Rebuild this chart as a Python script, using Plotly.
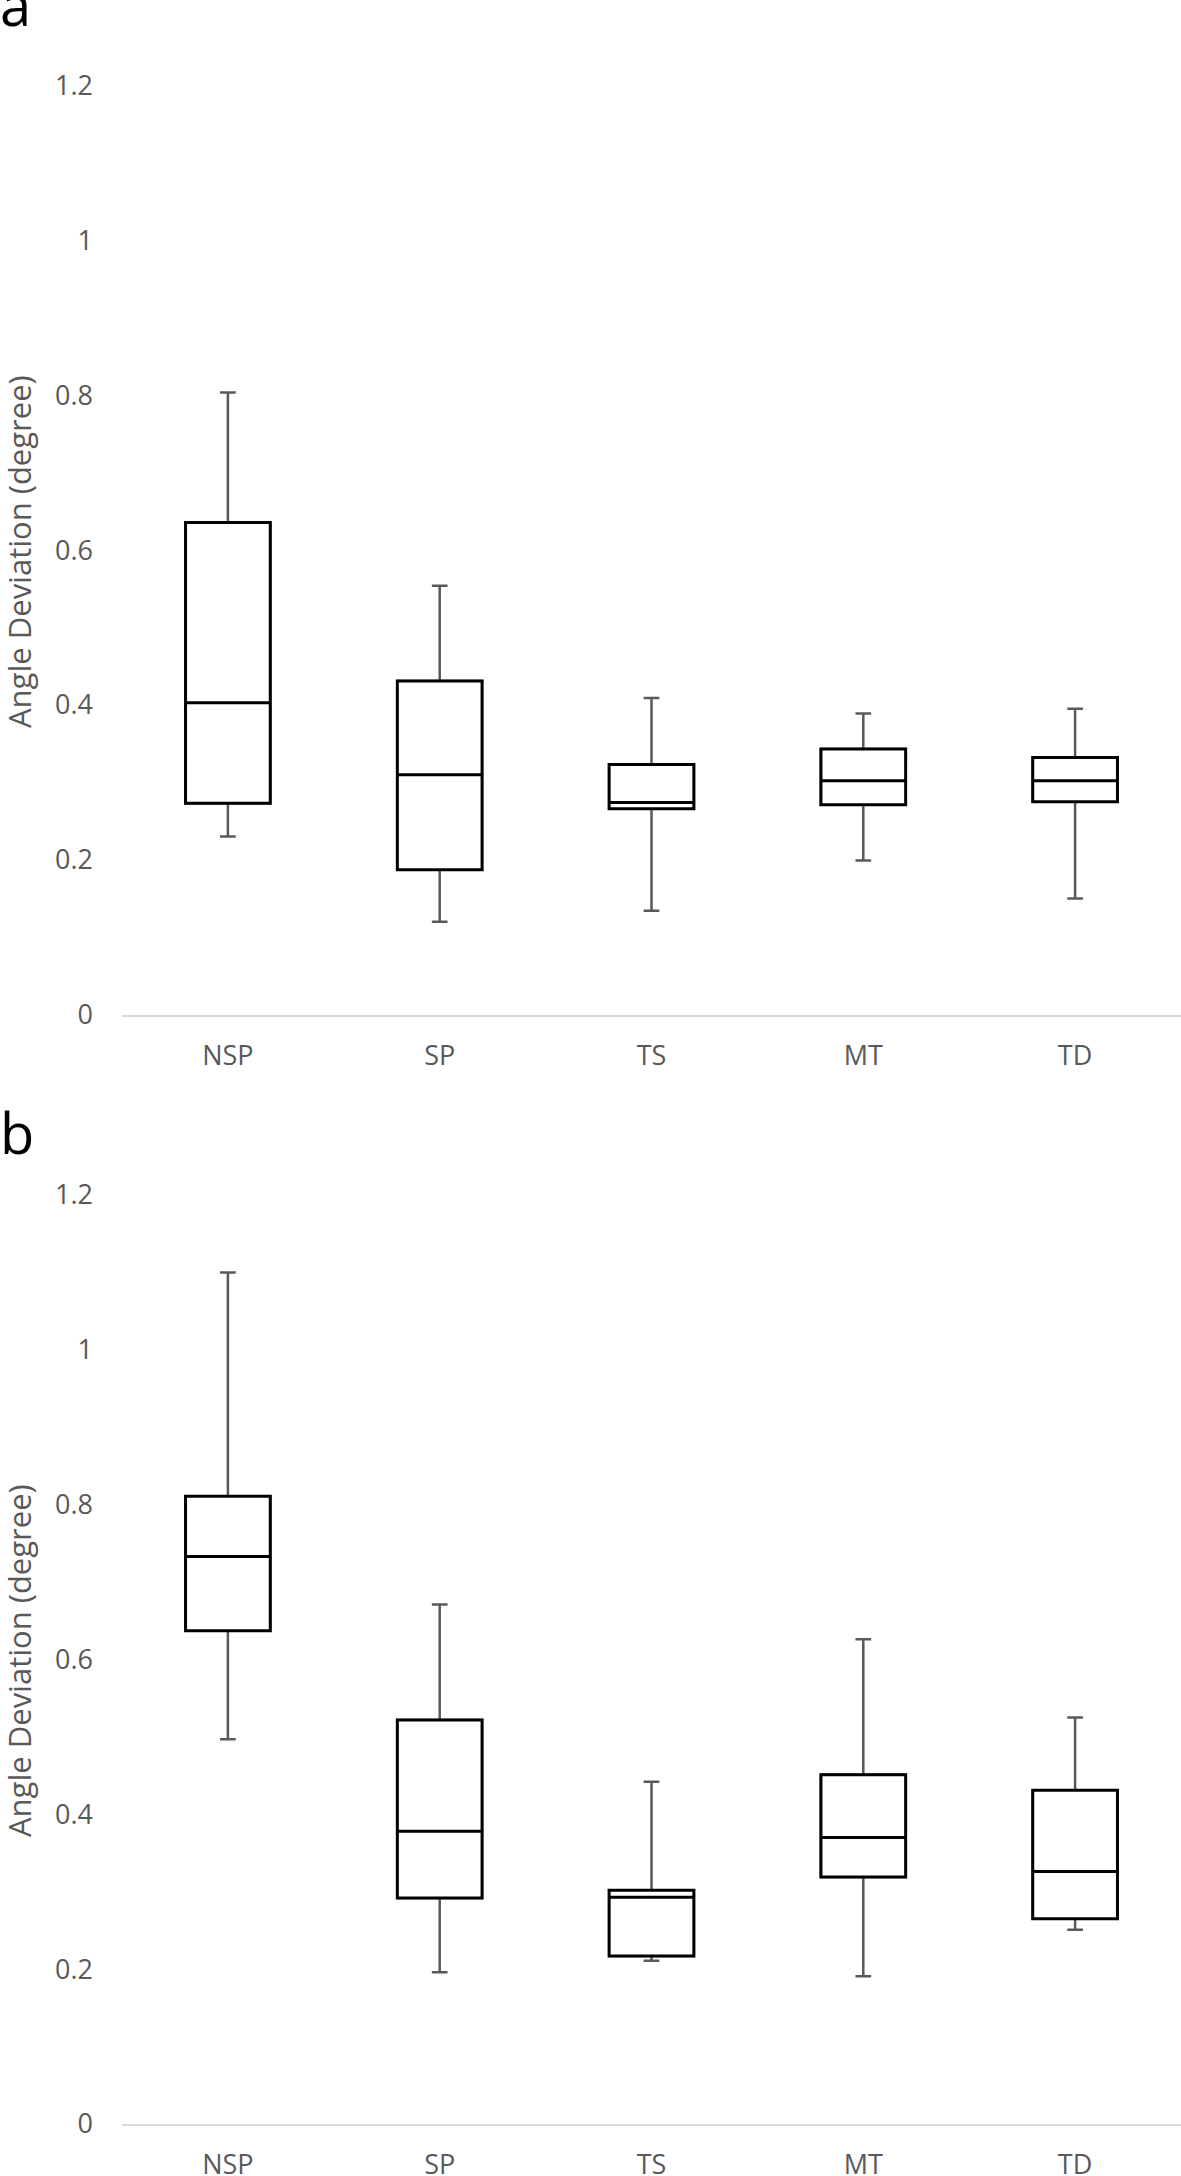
import plotly.graph_objects as go

# ---------------- data ----------------
categories = ["NSP", "SP", "TS", "MT", "TD"]

# panel a
a_lower = [0.230, 0.120, 0.134, 0.199, 0.150]
a_q1 = [0.273, 0.187, 0.266, 0.271, 0.275]
a_median = [0.403, 0.310, 0.274, 0.302, 0.302]
a_q3 = [0.636, 0.431, 0.323, 0.343, 0.332]
a_upper = [0.804, 0.554, 0.409, 0.389, 0.395]

# panel b
b_lower = [0.497, 0.196, 0.211, 0.191, 0.251]
b_q1 = [0.637, 0.292, 0.217, 0.319, 0.265]
b_median = [0.733, 0.378, 0.293, 0.370, 0.326]
b_q3 = [0.811, 0.522, 0.302, 0.451, 0.431]
b_upper = [1.100, 0.671, 0.442, 0.626, 0.525]

y_tickvals = [0, 0.2, 0.4, 0.6, 0.8, 1.0, 1.2]
y_ticktext = ["0", "0.2", "0.4", "0.6", "0.8", "1", "1.2"]
y_title = "Angle Deviation (degree)"
panel_labels = ["a", "b"]

# ---------------- layout geometry ----------------
W, H = 1181, 2176
MT, MB, ML, MR = 86, 52, 122, 0
PH = H - MT - MB
PW = W - ML - MR


def py(p):
    return (H - MB - p) / PH


def px(p):
    return (p - ML) / PW


FONT = "Open Sans"
GRAY = "#595959"
BOXW = 0.40

fig = go.Figure()


def add_panel(lower, q1, med, q3, upper, xa, ya):
    # whiskers (gray) with caps
    fig.add_trace(go.Box(
        x=categories, lowerfence=lower, q1=q1, median=med, q3=q3, upperfence=upper,
        xaxis=xa, yaxis=ya, width=BOXW, whiskerwidth=0.185,
        line=dict(color=GRAY, width=2.5), fillcolor="white",
        boxpoints=False, showlegend=False, hoverinfo="skip",
    ))
    # box + median (black)
    fig.add_trace(go.Box(
        x=categories, lowerfence=q1, q1=q1, median=med, q3=q3, upperfence=q3,
        xaxis=xa, yaxis=ya, width=BOXW, whiskerwidth=0,
        line=dict(color="black", width=3), fillcolor="white",
        boxpoints=False, showlegend=False, hoverinfo="skip",
    ))


add_panel(a_lower, a_q1, a_median, a_q3, a_upper, "x", "y")
add_panel(b_lower, b_q1, b_median, b_q3, b_upper, "x2", "y2")

xaxis_common = dict(
    type="category", categoryorder="array", categoryarray=categories,
    range=[-0.5, 4.5], showline=True, linecolor="#d9d9d9", linewidth=2,
    showgrid=False, zeroline=False, ticks="", ticklabelstandoff=16,
    tickfont=dict(family=FONT, size=27, color=GRAY), domain=[0, 1],
)
yaxis_common = dict(
    range=[0, 1.2], tickvals=y_tickvals, ticktext=y_ticktext,
    showline=False, showgrid=False, zeroline=False, ticks="",
    ticklabelstandoff=28,
    tickfont=dict(family=FONT, size=27, color=GRAY),
)

fig.update_layout(
    width=W, height=H,
    margin=dict(l=ML, r=MR, t=MT, b=MB, autoexpand=False),
    paper_bgcolor="white", plot_bgcolor="white",
    boxmode="overlay",
    xaxis=dict(xaxis_common, anchor="y"),
    yaxis=dict(yaxis_common, domain=[py(1014.5), 1], anchor="x"),
    xaxis2=dict(xaxis_common, anchor="y2"),
    yaxis2=dict(yaxis_common, domain=[0, py(1195)], anchor="x2"),
)

annotations = []
for ycen in (552, 1661):
    annotations.append(dict(
        text=y_title, xref="paper", yref="paper", x=px(19), y=py(ycen),
        xanchor="center", yanchor="middle", textangle=-90, showarrow=False,
        font=dict(family=FONT, size=31, color=GRAY),
    ))
for lab, ybase in zip(panel_labels, (30, 1158)):
    annotations.append(dict(
        text=lab, xref="paper", yref="paper", x=px(-2), y=py(ybase + 14),
        xanchor="left", yanchor="bottom", showarrow=False,
        font=dict(family=FONT, size=56, color="black"),
    ))
fig.update_layout(annotations=annotations)

fig.write_html(
    "out.html",
    config={"displayModeBar": False},
    post_script="document.body.style.margin='0';document.body.style.padding='0';document.body.style.overflow='hidden';",
)
